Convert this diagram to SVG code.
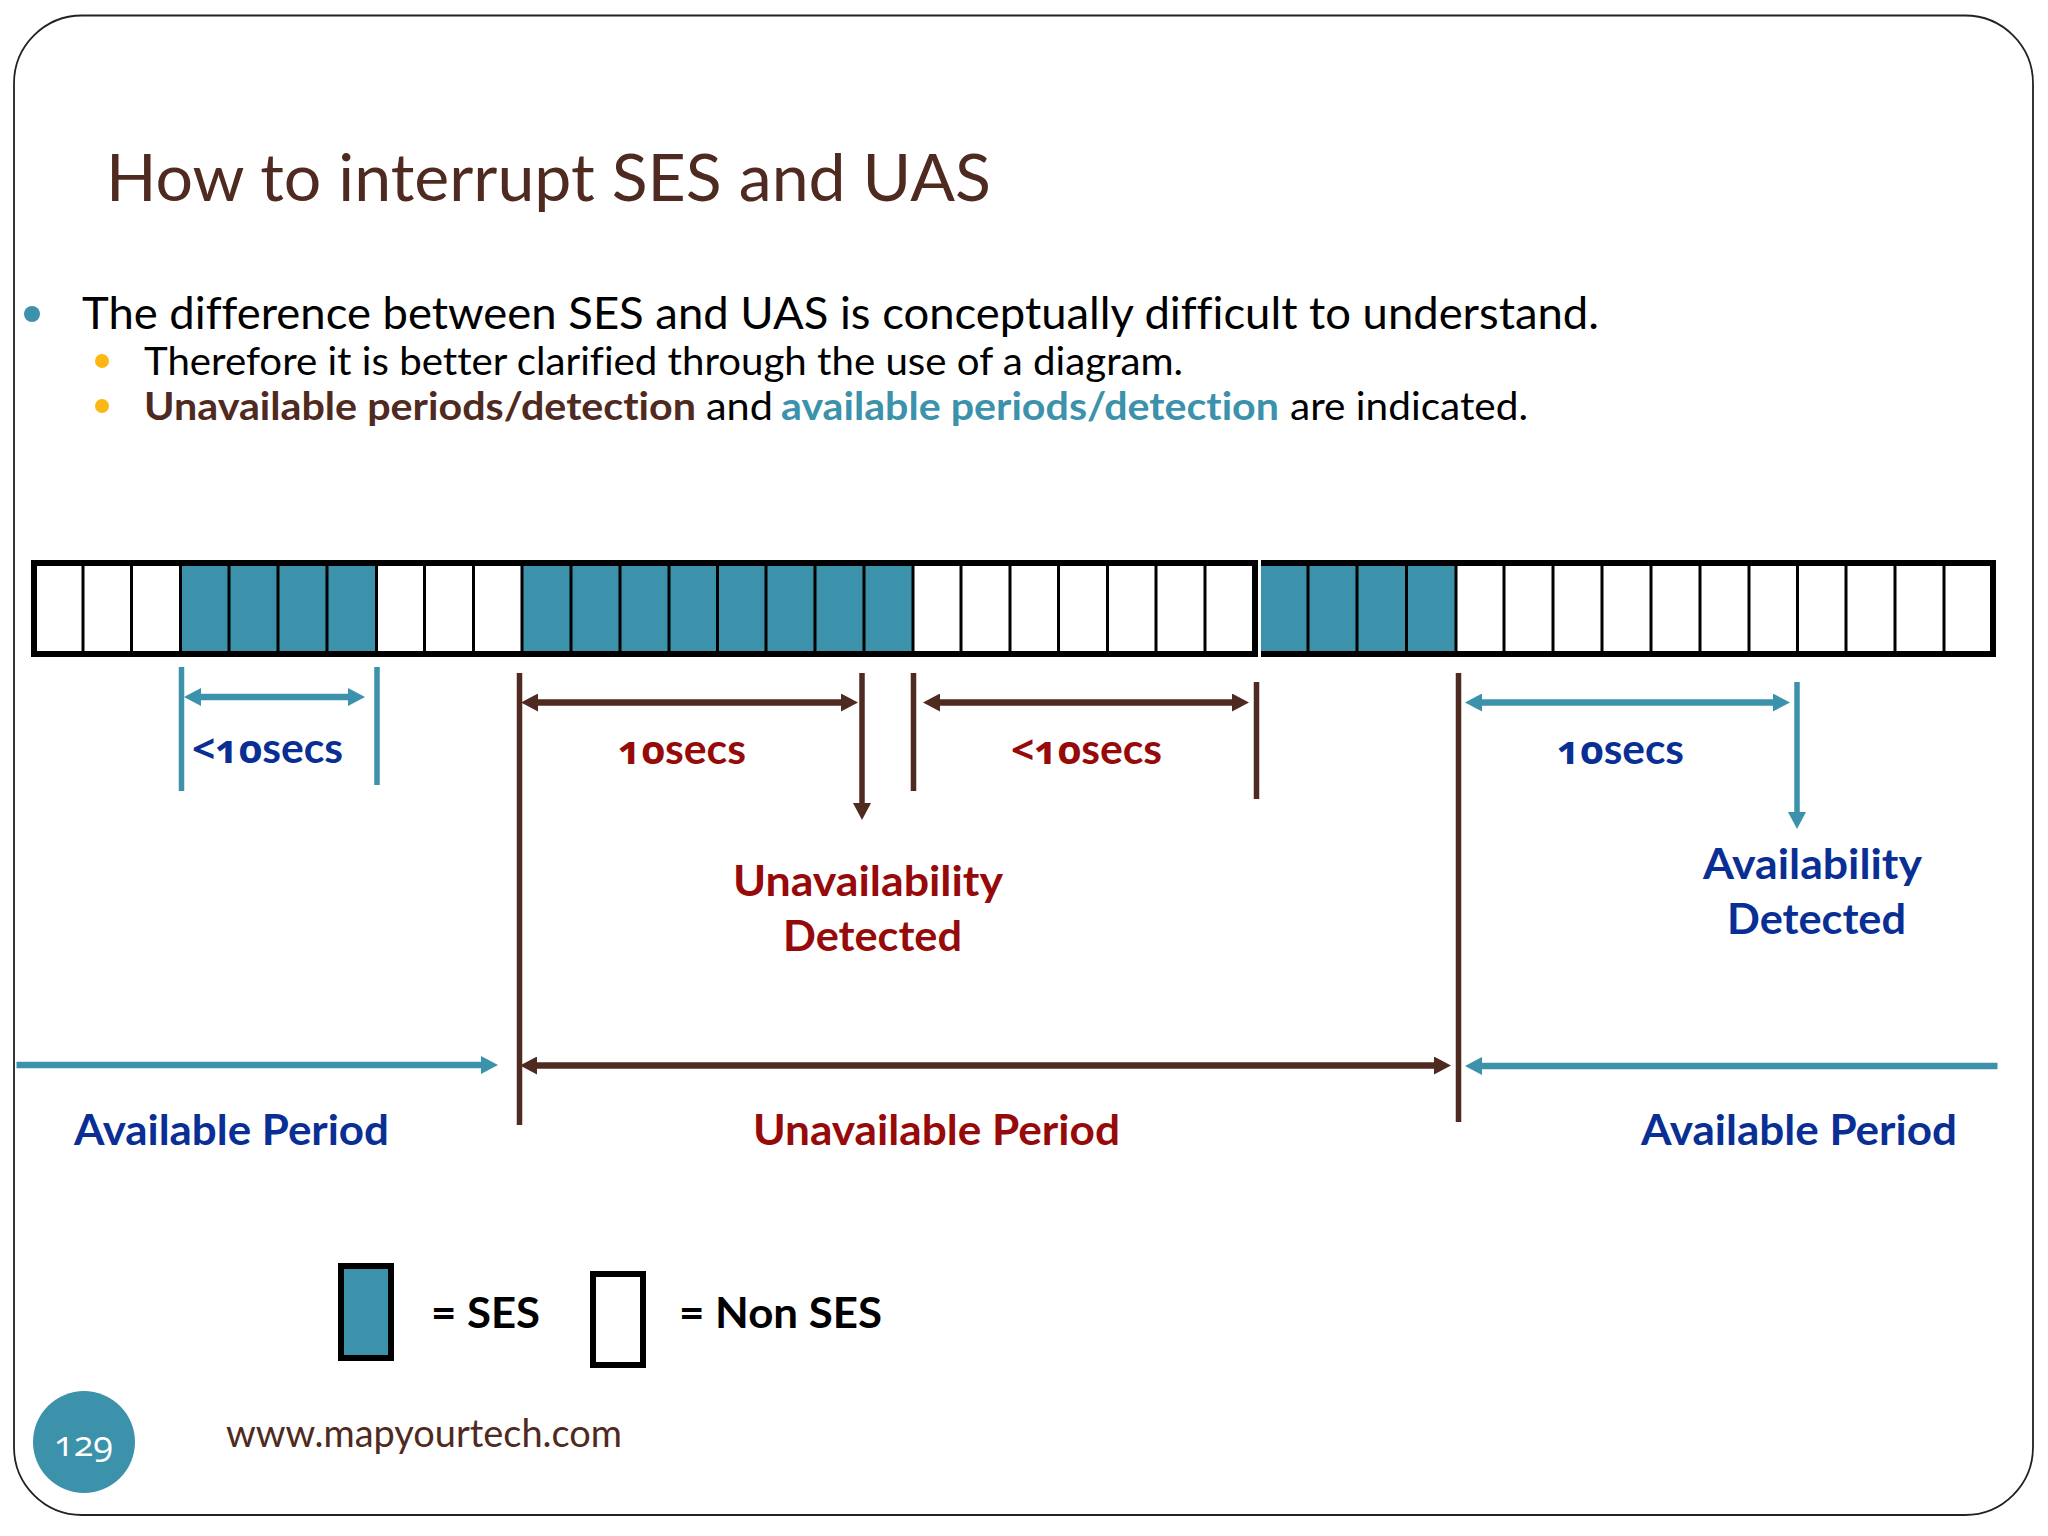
<svg xmlns="http://www.w3.org/2000/svg" width="2048" height="1536" viewBox="0 0 2048 1536">
<style>
text{font-family:"Lato","Open Sans","Liberation Sans",sans-serif;font-variant-ligatures:none}
.n{font-family:"Open Sans","Noto Sans",sans-serif;font-variant-numeric:oldstyle-nums}
.b{font-weight:700}
.br{fill:#4f2a20}.te{fill:#3b92aa}.na{fill:#0a2f94}.re{fill:#960a0a}.k{fill:#000}
.c{fill:none;stroke:#000;stroke-width:3}
.ls{stroke:#4f2a20;stroke-width:5.500;fill:none}.lt{stroke:#3b92aa;stroke-width:5.500;fill:none}
.sb{stroke:#4f2a20;stroke-width:6.500;fill:none}.st{stroke:#3b92aa;stroke-width:6.500;fill:none}
</style>
<defs>
<marker id="ab" markerUnits="userSpaceOnUse" markerWidth="18" markerHeight="18" refX="1" refY="9" orient="auto-start-reverse"><path d="M0 0L17 9L0 18Z" fill="#4f2a20"/></marker>
<marker id="at" markerUnits="userSpaceOnUse" markerWidth="18" markerHeight="18" refX="1" refY="9" orient="auto-start-reverse"><path d="M0 0L17 9L0 18Z" fill="#3b92aa"/></marker>
</defs>
<rect width="2048" height="1536" fill="#fff"/>
<rect id="frame" x="14" y="15.500" width="2019" height="1499.500" rx="68" fill="#fff" stroke="#222" stroke-width="1.800"/>
<g id="title"><text x="106" y="201" font-size="65" class="br" textLength="885" lengthAdjust="spacingAndGlyphs">How to interrupt SES and UAS</text></g>
<g id="bullets">
<circle cx="32" cy="314" r="8" class="te"/>
<text x="82" y="329" font-size="44" class="k" textLength="1517" lengthAdjust="spacingAndGlyphs">The difference between SES and UAS is conceptually difficult to understand.</text>
<circle cx="102" cy="361" r="7" fill="#fdb714"/>
<text x="144" y="374.500" font-size="39" class="k" textLength="1039" lengthAdjust="spacingAndGlyphs">Therefore it is better clarified through the use of a diagram.</text>
<circle cx="102" cy="406" r="7" fill="#fdb714"/>
<text x="144" y="419.500" font-size="39" class="br b" textLength="552" lengthAdjust="spacingAndGlyphs">Unavailable periods/detection</text>
<text x="706" y="419.500" font-size="39" class="k" textLength="67" lengthAdjust="spacingAndGlyphs">and</text>
<text x="781" y="419.500" font-size="39" class="te b" textLength="498" lengthAdjust="spacingAndGlyphs">available periods/detection</text>
<text x="1290" y="419.500" font-size="39" class="k" textLength="238" lengthAdjust="spacingAndGlyphs">are indicated.</text>
</g>
<g id="bar">
<rect x="181" y="566" width="196" height="86" class="te"/>
<rect x="522" y="566" width="391" height="86" class="te"/>
<rect x="1261" y="566" width="195" height="86" class="te"/>
<path class="c" d="M83 563V654M131.500 563V654M229 563V654M278 563V654M327 563V654M424.500 563V654M473.500 563V654M571 563V654M620 563V654M669 563V654M717.500 563V654M766 563V654M815 563V654M864 563V654M961 563V654M1010 563V654M1058.500 563V654M1107.500 563V654M1156 563V654M1205 563V654M1308 563V654M1357 563V654M1406.500 563V654M1504 563V654M1553 563V654M1602 563V654M1651 563V654M1700 563V654M1749 563V654M1797.500 563V654M1846 563V654M1895 563V654M1944 563V654"/>
<path d="M180.500 563V654M376.500 563V654M522 563V654M913 563V654M1456 563V654" class="c" stroke-width="2"/>
<rect x="34" y="563" width="1221" height="91" fill="none" stroke="#000" stroke-width="6"/>
<path d="M1261 563H1993V654H1261" fill="none" stroke="#000" stroke-width="6"/>
<path d="M1993 560V657" stroke="#000" stroke-width="6"/>
</g>
<g id="connectors">
<path class="lt" d="M181.500 667V791M377 667V785"/>
<path class="st" d="M200 697H349" marker-start="url(#at)" marker-end="url(#at)"/>
<path class="ls" d="M519.500 673V1125M913.500 673V791M1256.500 682V799M1458.500 673V1122"/>
<path class="sb" d="M537 702.500H842" marker-start="url(#ab)" marker-end="url(#ab)"/>
<path class="sb" d="M939 702.500H1233" marker-start="url(#ab)" marker-end="url(#ab)"/>
<path class="ls" d="M862 673V804" marker-end="url(#ab)"/>
<path class="st" d="M1481 702.500H1774" marker-start="url(#at)" marker-end="url(#at)"/>
<path class="lt" d="M1797 682V813" marker-end="url(#at)"/>
<path class="st" d="M16.500 1065H482" marker-end="url(#at)"/>
<path class="sb" d="M536 1065.500H1435" marker-start="url(#ab)" marker-end="url(#ab)"/>
<path class="st" d="M1481 1066H1997.500" marker-start="url(#at)"/>
</g>
<g id="labels" font-size="42">
<text x="192" y="763" class="na b" textLength="151" lengthAdjust="spacingAndGlyphs"><tspan class="n" font-size="40">&lt;10</tspan>secs</text>
<text x="618" y="764" class="re b" textLength="128" lengthAdjust="spacingAndGlyphs"><tspan class="n" font-size="40">10</tspan>secs</text>
<text x="1011" y="764" class="re b" textLength="151" lengthAdjust="spacingAndGlyphs"><tspan class="n" font-size="40">&lt;10</tspan>secs</text>
<text x="1557" y="764" class="na b" textLength="127" lengthAdjust="spacingAndGlyphs"><tspan class="n" font-size="40">10</tspan>secs</text>
<text x="733" y="896" class="re b" textLength="270" lengthAdjust="spacingAndGlyphs">Unavailability</text>
<text x="783" y="950.500" class="re b" textLength="179" lengthAdjust="spacingAndGlyphs">Detected</text>
<text x="1703" y="879" class="na b" textLength="219" lengthAdjust="spacingAndGlyphs">Availability</text>
<text x="1727" y="933.500" class="na b" textLength="179" lengthAdjust="spacingAndGlyphs">Detected</text>
<text x="74" y="1145" class="na b" textLength="315" lengthAdjust="spacingAndGlyphs">Available Period</text>
<text x="753" y="1145" class="re b" textLength="367" lengthAdjust="spacingAndGlyphs">Unavailable Period</text>
<text x="1641" y="1145" class="na b" textLength="316" lengthAdjust="spacingAndGlyphs">Available Period</text>
</g>
<g id="legend-ses"><rect x="341" y="1266" width="50" height="92" class="te" stroke="#000" stroke-width="6"/><text x="431" y="1327.500" class="k b" font-size="42" textLength="109" lengthAdjust="spacingAndGlyphs">= SES</text></g>
<g id="legend-non-ses"><rect x="593" y="1274" width="50" height="91" fill="#fff" stroke="#000" stroke-width="6"/><text x="679" y="1327.500" class="k b" font-size="42" textLength="203" lengthAdjust="spacingAndGlyphs">= Non SES</text></g>
<g id="footer"><circle cx="84" cy="1442" r="51" class="te"/><text x="54" y="1456" class="n" font-size="34" fill="#fff" textLength="59" lengthAdjust="spacingAndGlyphs">129</text>
<text x="226" y="1447" font-size="38" class="br" textLength="396" lengthAdjust="spacingAndGlyphs">www.mapyourtech.com</text></g>
</svg>
